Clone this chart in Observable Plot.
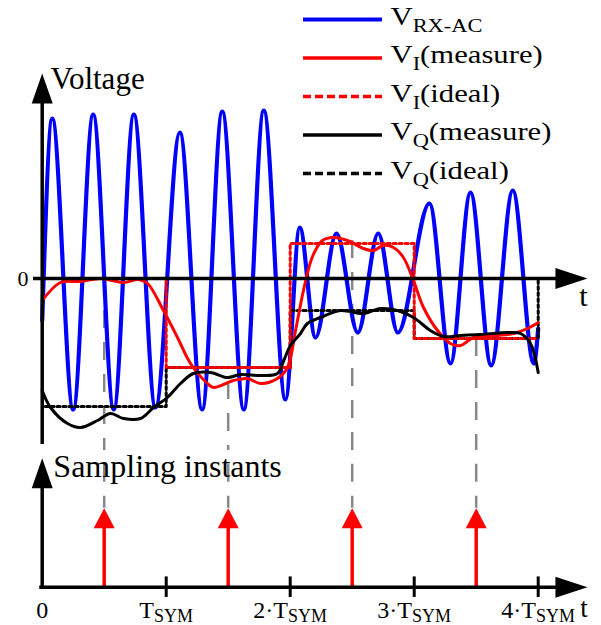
<!DOCTYPE html>
<html>
<head>
<meta charset="utf-8">
<script src="https://cdn.jsdelivr.net/npm/d3@7"></script>
<script src="https://cdn.jsdelivr.net/npm/@observablehq/plot@0.6"></script>
<style>
  html, body { margin: 0; padding: 0; background: #fff; }
  #chart { position: relative; width: 601px; height: 625px; overflow: hidden; }
  #chart svg { display: block; }
  #chart svg text, #chart svg tspan { font-family: "Liberation Serif", "Times New Roman", Times, serif !important; }
</style>
</head>
<body>
<div id="chart"></div>
<script>
// ---------- data (time in T_SYM units, voltage in arbitrary units) ----------
const blueT = [0, 0.081, 0.25, 0.411, 0.577, 0.739, 0.914, 1.11, 1.29, 1.452, 1.626, 1.787, 1.962,
               2.077, 2.204, 2.373, 2.545, 2.71, 2.868, 3.123, 3.293, 3.454, 3.621, 3.795, 3.965, 4.0];
const blueV = [-0.42, 1.60, -1.31, 1.64, -1.31, 1.64, -1.29, 1.46, -1.31, 1.67, -1.31, 1.68, -1.21,
               0.51, -0.59, 0.45, -0.54, 0.45, -0.54, 0.75, -0.85, 0.86, -0.87, 0.88, -0.85, -0.50];

const iMeasT = [0, 0.148, 0.309, 0.47, 0.656, 0.777, 0.85, 0.978, 1.091, 1.196, 1.333, 1.381, 1.543,
                1.656, 1.76, 1.897, 1.978, 2.043, 2.107, 2.18, 2.26, 2.349, 2.462, 2.591, 2.672, 2.752,
                2.833, 2.913, 2.994, 3.075, 3.188, 3.292, 3.373, 3.478, 3.672, 3.801, 3.914, 4.0];
const iMeasV = [-0.22, -0.04, -0.03, 0.0, -0.04, -0.01, -0.05, -0.32, -0.59, -0.85, -1.05, -1.09, -1.02,
                -1.0, -1.05, -1.0, -0.89, -0.52, -0.12, 0.22, 0.38, 0.41, 0.38, 0.30, 0.28, 0.33,
                0.31, 0.21, -0.02, -0.29, -0.52, -0.65, -0.67, -0.59, -0.57, -0.55, -0.50, -0.44];

const qMeasT = [0, 0.067, 0.204, 0.309, 0.446, 0.551, 0.656, 0.793, 0.898, 1.01, 1.115, 1.22, 1.357,
                1.494, 1.599, 1.76, 1.897, 1.948, 2.002, 2.083, 2.139, 2.244, 2.406, 2.591, 2.728,
                2.865, 2.994, 3.131, 3.236, 3.373, 3.534, 3.752, 3.857, 3.938, 4.0];
const qMeasV = [-1.12, -1.29, -1.45, -1.49, -1.42, -1.35, -1.40, -1.40, -1.29, -1.19, -1.05, -0.95, -0.94,
                -0.99, -0.96, -0.97, -0.95, -0.82, -0.67, -0.55, -0.45, -0.39, -0.32, -0.35, -0.30,
                -0.32, -0.39, -0.52, -0.58, -0.57, -0.56, -0.54, -0.55, -0.65, -0.94];

const symbolStart = [0, 1, 2, 3];
const idealI = [0, -0.89, 0.35, -0.60];
const idealQ = [-1.28, -0.89, -0.32, -0.60];

const sampleT = [0.5, 1.5, 2.5, 3.5];
const sampleI = [0.0, -1.03, 0.38, -0.60];

const tickT = [1, 2, 3, 4];
const tickLabelT = [0, 1, 2, 3, 4];
const tickLabels = ["0", "T_{SYM}", "2·T_{SYM}", "3·T_{SYM}", "4·T_{SYM}"];

const legendLabels = ["V_{RX-AC}", "V_{I}(measure)", "V_{I}(ideal)", "V_{Q}(measure)", "V_{Q}(ideal)"];

// ---------- tables built from the arrays ----------
const zip = (T, V) => T.map((t, i) => ({t, v: V[i]}));
const blue = zip(blueT, blueV);
const iMeas = zip(iMeasT, iMeasV);
const qMeas = zip(qMeasT, qMeasV);
const steps = (levels, closeTo) => {
  const pts = symbolStart.map((t, i) => ({t, v: levels[i]}));
  pts.push({t: 4, v: levels[levels.length - 1]});
  if (closeTo !== undefined) pts.push({t: 4, v: closeTo});
  return pts;
};
const idealIPts = steps(idealI);
const idealQPts = steps(idealQ, 0);
const samples = sampleT.map((t, i) => ({t, v: sampleI[i]}));
const ticks = tickLabelT.map((t, i) => ({t, label: tickLabels[i]}));
const legend = legendLabels.map((label, i) => ({label, i}));

// ---------- helpers ----------
const FONT = "Liberation Serif";
const X = {domain: [-41.7 / 124, (601 - 41.7) / 124]};
const headUp = (len, half) => ({draw(c) { c.moveTo(0, 0); c.lineTo(-half, len); c.lineTo(half, len); c.closePath(); }});
const headRight = (len, half) => ({draw(c) { c.moveTo(0, 0); c.lineTo(-len, -half); c.lineTo(-len, half); c.closePath(); }});
const T_AXIS_TIP = 4.397;

function subify(el, subSize, subDy) {
  const s = el.textContent;
  if (!s.includes("_{")) return false;
  const parts = s.split(/(_\{[^}]*\})/).filter(p => p);
  el.textContent = "";
  let shifted = false;
  for (const p of parts) {
    const ts = document.createElementNS("http://www.w3.org/2000/svg", "tspan");
    if (p.startsWith("_{")) {
      ts.textContent = p.slice(2, -1);
      ts.setAttribute("font-size", subSize);
      ts.setAttribute("dy", subDy);
      shifted = true;
    } else {
      ts.textContent = p;
      if (shifted) { ts.setAttribute("dy", -subDy); shifted = false; }
    }
    el.appendChild(ts);
  }
  return true;
}

// ---------- top panel ----------
const legendY = i => 2.59 - 0.385 * i;
const LX1 = (303 - 41.7) / 124, LX2 = (382 - 41.7) / 124, LXT = (390 - 41.7) / 124;
const legendStyles = [
  {stroke: "#0000ff", strokeWidth: 4},
  {stroke: "#ff0000", strokeWidth: 3.5},
  {stroke: "#ff0000", strokeWidth: 3.5, strokeDasharray: "8,4"},
  {stroke: "#000000", strokeWidth: 3.5},
  {stroke: "#000000", strokeWidth: 3.5, strokeDasharray: "8,4"}
];

const topPlot = Plot.plot({
  width: 601, height: 450,
  margin: 0,
  x: {...X, axis: null},
  y: {domain: [-1.72, 2.78], axis: null},
  style: {fontFamily: FONT, background: "white", overflow: "visible"},
  marks: [
    Plot.ruleX(samples, {x: "t", y1: "v", y2: -1.72, stroke: "#888", strokeWidth: 2.5, strokeDasharray: "18,14"}),
    Plot.line(blue, {x: "t", y: "v", stroke: "#0000ff", strokeWidth: 4.2, curve: "monotone-x"}),
    Plot.line(idealQPts, {x: "t", y: "v", curve: "step-after", stroke: "#000", strokeWidth: 3, strokeDasharray: "3,3", strokeDashoffset: 3}),
    Plot.line(idealIPts, {x: "t", y: "v", curve: "step-after", stroke: "#ff0000", strokeWidth: 3, strokeDasharray: "3,3"}),
    Plot.line(iMeas, {x: "t", y: "v", stroke: "#ff0000", strokeWidth: 3, curve: "catmull-rom"}),
    Plot.line(qMeas, {x: "t", y: "v", stroke: "#000", strokeWidth: 3, curve: "catmull-rom"}),
    // axes
    Plot.ruleY([0], {x1: -0.07, x2: 4.2, stroke: "#000", strokeWidth: 3.5}),
    Plot.ruleX([0], {y1: -1.66, y2: 1.8, stroke: "#000", strokeWidth: 3.5}),
    Plot.dot([{t: 0, v: 2.05}], {x: "t", y: "v", symbol: headUp(30, 10.5), fill: "#000", stroke: "none"}),
    Plot.dot([{t: T_AXIS_TIP, v: 0}], {x: "t", y: "v", symbol: headRight(32, 10.5), fill: "#000", stroke: "none"}),
    Plot.text(["Voltage"], {x: 0.067, y: 1.90, text: d => d, textAnchor: "start", lineAnchor: "bottom", fontSize: 31, fontFamily: FONT}),
    Plot.text(["0"], {x: -0.11, y: 0, text: d => d, textAnchor: "end", lineAnchor: "middle", fontSize: 22, fontFamily: FONT}),
    Plot.text(["t"], {x: 4.365, y: -0.27, text: d => d, textAnchor: "middle", lineAnchor: "bottom", fontSize: 30, fontFamily: FONT}),
    // legend
    ...legend.map((d, i) => Plot.ruleY([d], {y: () => legendY(i), x1: LX1, x2: LX2, ...legendStyles[i]})),
    Plot.text(legend, {x: LXT, y: d => legendY(d.i), dy: 5, text: "label", textAnchor: "start", lineAnchor: "bottom", fontSize: 26, fontFamily: FONT})
  ]
});

// ---------- bottom panel ----------
const bottomPlot = Plot.plot({
  width: 601, height: 175,
  margin: 0,
  x: {...X, axis: null},
  y: {domain: [-0.485, 1.730], axis: null},
  style: {fontFamily: FONT, background: "white", overflow: "visible"},
  marks: [
    Plot.ruleX(sampleT, {x: d => d, y1: 1.0, y2: 1.73, stroke: "#888", strokeWidth: 2.5, strokeDasharray: "18,14", strokeDashoffset: 6}),
    Plot.ruleX(sampleT, {x: d => d, y1: 0, y2: 0.78, stroke: "#ff0000", strokeWidth: 3.5}),
    Plot.dot(sampleT, {x: d => d, y: () => 1.0, symbol: headUp(20, 10.5), fill: "#ff0000", stroke: "none"}),
    Plot.ruleY([0], {x1: -0.02, x2: 4.2, stroke: "#000", strokeWidth: 3.5}),
    Plot.ruleX([0], {y1: -0.03, y2: 1.3, stroke: "#000", strokeWidth: 3.5}),
    Plot.dot([{t: 0, v: 1.633}], {x: "t", y: "v", symbol: headUp(30, 10.5), fill: "#000", stroke: "none"}),
    Plot.dot([{t: T_AXIS_TIP, v: 0}], {x: "t", y: "v", symbol: headRight(32, 10.5), fill: "#000", stroke: "none"}),
    Plot.ruleX(tickT, {x: d => d, y1: -0.13, y2: 0.13, stroke: "#000", strokeWidth: 3}),
    Plot.text(ticks, {x: "t", y: -0.395, text: "label", textAnchor: "middle", lineAnchor: "bottom", fontSize: 24, fontFamily: FONT}),
    Plot.text(["Sampling instants"], {x: 0.09, y: 1.39, text: d => d, textAnchor: "start", lineAnchor: "bottom", fontSize: 32, fontFamily: FONT}),
    Plot.text(["t"], {x: 4.37, y: -0.38, text: d => d, textAnchor: "middle", lineAnchor: "bottom", fontSize: 27, fontFamily: FONT})
  ]
});

const chart = document.getElementById("chart");
chart.appendChild(topPlot);
chart.appendChild(bottomPlot);

// subscripts
d3.select(topPlot).selectAll("text").each(function() {
  if (subify(this, 19, 7)) {
    const tr = this.getAttribute("transform") || "";
    this.setAttribute("transform", tr + " scale(1.18,1)");
  }
});
d3.select(bottomPlot).selectAll("text").each(function() {
  subify(this, 18, 4);
});
</script>
</body>
</html>
